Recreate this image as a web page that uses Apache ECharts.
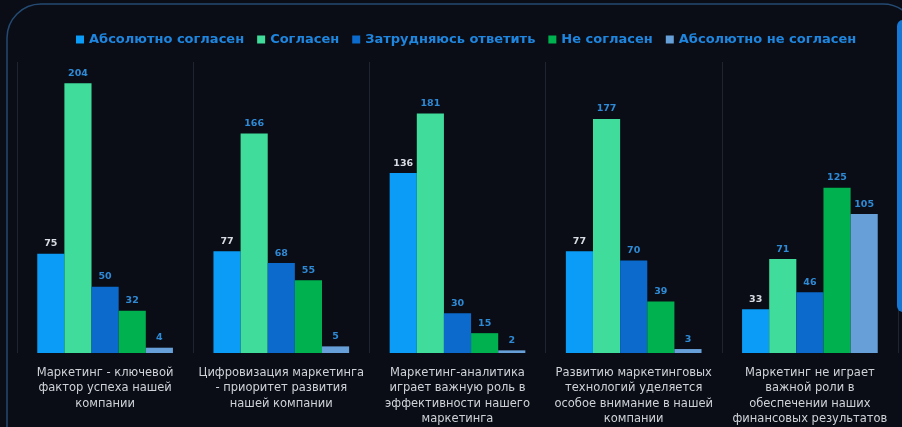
<!DOCTYPE html>
<html>
<head>
<meta charset="utf-8">
<script src="https://cdn.jsdelivr.net/npm/echarts@6/dist/echarts.min.js"></script>
<style>
html,body{margin:0;padding:0;background:#0a0d15;}
#c{width:902px;height:427px;}
</style>
</head>
<body>
<div id="c"></div>
<script>
const categories = [
  'Маркетинг - ключевой\nфактор успеха нашей\nкомпании',
  'Цифровизация маркетинга\n- приоритет развития\nнашей компании',
  'Маркетинг-аналитика\nиграет важную роль в\nэффективности нашего\nмаркетинга',
  'Развитию маркетинговых\nтехнологий уделяется\nособое внимание в нашей\nкомпании',
  'Маркетинг не играет\nважной роли в\nобеспечении наших\nфинансовых результатов'
];
const seriesNames = ['Абсолютно согласен', 'Согласен', 'Затрудняюсь ответить', 'Не согласен', 'Абсолютно не согласен'];
const fullyAgree = [75, 77, 136, 77, 33];
const agree = [204, 166, 181, 177, 71];
const unsure = [50, 68, 30, 70, 46];
const disagree = [32, 55, 15, 39, 125];
const fullyDisagree = [4, 5, 2, 3, 105];

const seriesData = [fullyAgree, agree, unsure, disagree, fullyDisagree];
const colors = ['#0a9cf6', '#3fdc9c', '#0b6acb', '#00b14f', '#679fd9'];
const labelColors = ['#d8dce2', '#2f8ad6', '#2f8ad6', '#2f8ad6', '#2f8ad6'];

const chart = echarts.init(document.getElementById('c'));
chart.setOption({
  backgroundColor: '#0a0d15',
  animation: false,
  color: colors,
  graphic: [
    { type: 'rect', shape: { x: 7, y: 4, width: 910, height: 460, r: 34 }, style: { fill: 'none', stroke: '#244a73', lineWidth: 1.5 }, z: -1 },
    { type: 'rect', shape: { x: 897, y: 20, width: 12, height: 292, r: 6 }, style: { fill: '#1677d4' }, z: 10 }
  ],
  legend: {
    top: 28,
    left: 71,
    itemWidth: 8,
    itemHeight: 8,
    itemGap: 13,
    icon: 'rect',
    textStyle: { color: '#1f86e0', fontSize: 13, fontWeight: 'bold', fontFamily: 'DejaVu Sans' },
    data: seriesNames
  },
  grid: { left: 17, right: 4, top: 62, bottom: 74, containLabel: false },
  xAxis: {
    type: 'category',
    data: categories,
    axisTick: { show: false },
    axisLine: { show: false },
    splitLine: { show: true, lineStyle: { color: '#1f2530', width: 1 } },
    axisLabel: { color: '#cfd3d8', fontSize: 11.5, lineHeight: 15.5, fontFamily: 'DejaVu Sans', interval: 0, margin: 12 }
  },
  yAxis: {
    type: 'value', min: 0, max: 220, show: false,
    splitLine: { show: false }
  },
  series: seriesData.map((d, i) => ({
    name: seriesNames[i],
    type: 'bar',
    data: d,
    barGap: '0%',
    barCategoryGap: '23%',
    itemStyle: { color: colors[i] },
    label: { show: true, position: 'top', distance: 5, color: labelColors[i], fontSize: 9.5, fontWeight: 'bold', fontFamily: 'DejaVu Sans' }
  }))
});
</script>
</body>
</html>
